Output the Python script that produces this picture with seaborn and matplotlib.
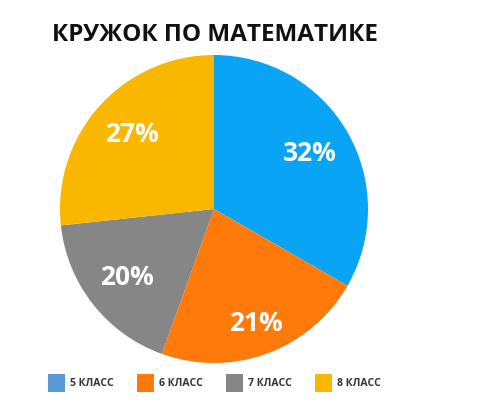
import matplotlib
matplotlib.use("Agg")
import matplotlib.pyplot as plt
from matplotlib.patches import Patch
import seaborn as sns

# data
grades = ["5 КЛАСС", "6 КЛАСС", "7 КЛАСС", "8 КЛАСС"]
shares = [33.3, 22.2, 17.8, 26.7]
# percent labels as printed on the chart
pct_labels = ["32%", "21%", "20%", "27%"]
pie_colors = ["#0AA4F6", "#FF7A0A", "#868686", "#F9B700"]
legend_colors = ["#5B9BD5", "#FF7A0A", "#868686", "#F9B700"]
title = "КРУЖОК ПО МАТЕМАТИКЕ"


def main():
    sns.set_theme(style="white")
    plt.rcParams["font.family"] = ["Open Sans", "DejaVu Sans"]

    fig = plt.figure(figsize=(5.0, 4.09), dpi=100)
    ax = fig.add_axes([(214 - 154) / 500, (409 - 363) / 409, 308 / 500, 308 / 409])

    wedges, texts = ax.pie(
        shares,
        colors=pie_colors,
        labels=pct_labels,
        labeldistance=0.72,
        startangle=90,
        counterclock=False,
        wedgeprops={"linewidth": 0},
        textprops={"color": "white", "fontsize": 19, "fontweight": "bold",
                   "ha": "center", "va": "center"},
    )
    # the 21% label sits a bit further out in the original
    x, y = texts[1].get_position()
    texts[1].set_position((x * 1.1, y * 1.1))

    ax.set_xlim(-1, 1)
    ax.set_ylim(-1, 1)
    ax.set_aspect("equal")
    ax.axis("off")

    fig.text(0.104, 1 - 35 / 409, title, fontsize=17.5, fontweight="bold",
             color="#111111", va="center", ha="left")

    handles = [Patch(facecolor=c, edgecolor="none") for c in legend_colors]
    fig.legend(
        handles, grades,
        loc="center left",
        bbox_to_anchor=(0.096, 1 - 383 / 409),
        ncol=4,
        frameon=False,
        prop={"size": 7.5, "weight": "bold"},
        handlelength=1.65,
        handleheight=2.3,
        handletextpad=0.5,
        columnspacing=2.2,
        borderaxespad=0,
        borderpad=0,
    )
    for t in fig.legends[0].get_texts():
        t.set_color("#333333")

    fig.savefig("out.png", dpi=100)
    plt.close(fig)


if __name__ == "__main__":
    main()
